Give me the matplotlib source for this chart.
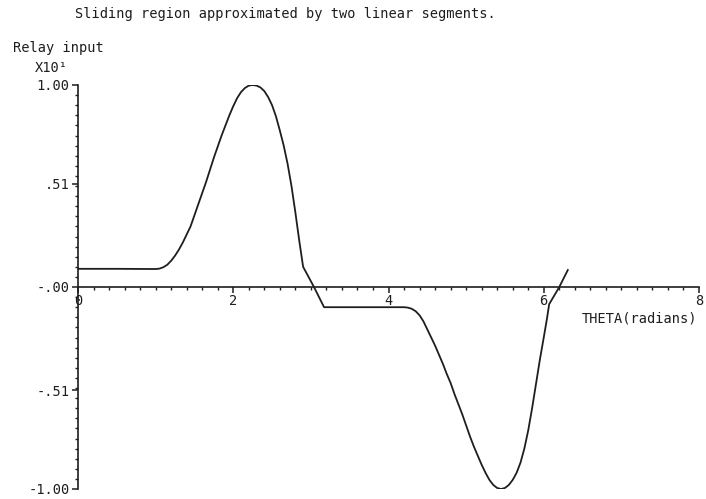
"""
Relay input vs THETA, sliding region approximated by two linear segments
"""
import numpy as np
import matplotlib
matplotlib.use("Agg")
import matplotlib.pyplot as plt
from matplotlib.ticker import MultipleLocator, FixedLocator

theta = [0.0, 0.5, 1.0, 1.05, 1.10, 1.15, 1.20, 1.25, 1.30, 1.35, 1.40, 1.45,
         1.50, 1.55, 1.60, 1.65, 1.70, 1.75, 1.80, 1.85, 1.90, 1.95, 2.00, 2.05,
         2.10, 2.15, 2.20, 2.25, 2.30, 2.35, 2.40, 2.45, 2.50, 2.55, 2.60, 2.65,
         2.70, 2.75, 2.80, 2.85, 2.90, 3.04, 3.17, 3.6, 4.20, 4.25, 4.30, 4.35,
         4.40, 4.45, 4.50, 4.55, 4.60, 4.65, 4.70, 4.75, 4.80, 4.85, 4.90, 4.95,
         5.00, 5.05, 5.10, 5.15, 5.20, 5.25, 5.30, 5.35, 5.40, 5.45, 5.50, 5.55,
         5.60, 5.65, 5.70, 5.75, 5.80, 5.85, 5.90, 5.95, 6.00, 6.04, 6.07, 6.20,
         6.31]
relay = [0.09, 0.09, 0.089, 0.091, 0.098, 0.11, 0.13, 0.155, 0.185, 0.22, 0.26, 0.30,
         0.355, 0.41, 0.465, 0.52, 0.58, 0.64, 0.695, 0.75, 0.80, 0.85, 0.895, 0.935,
         0.965, 0.985, 0.997, 1.0, 0.997, 0.988, 0.97, 0.94, 0.90, 0.845, 0.775, 0.70,
         0.61, 0.50, 0.37, 0.23, 0.10, 0.0, -0.10, -0.10, -0.10, -0.102, -0.108, -0.12,
         -0.14, -0.17, -0.21, -0.25, -0.29, -0.335, -0.38, -0.43, -0.475, -0.53, -0.58, -0.63,
         -0.685, -0.74, -0.79, -0.835, -0.88, -0.92, -0.955, -0.98, -0.995, -1.0, -0.995, -0.98,
         -0.955, -0.92, -0.87, -0.80, -0.71, -0.60, -0.48, -0.36, -0.25, -0.16, -0.085, 0.0,
         0.084]

ytick_vals = [-1.0, -0.51, 0.0, 0.51, 1.0]
ytick_labels = ["-1.00", "-.51", "-.00", ".51", "1.00"]
xtick_vals = [0, 2, 4, 6, 8]

W, H = 706, 499
FONT = "DejaVu Sans Mono"
FS = 9.8
INK = "#1e1e1e"

plt.rcParams["font.family"] = FONT

fig = plt.figure(figsize=(W / 100, H / 100), dpi=100)
ax = fig.add_axes([78 / W, (H - 489) / H, (699 - 78) / W, (489 - 85) / H])

ax.plot(theta, relay, color=INK, lw=1.3)

ax.set_xlim(0, 8)
ax.set_ylim(-1.0, 1.0)

for s in ("top", "right"):
    ax.spines[s].set_visible(False)
ax.spines["bottom"].set_position(("data", 0))
ax.spines["left"].set_position(("data", 0))
for s in ("bottom", "left"):
    ax.spines[s].set_color(INK)
    ax.spines[s].set_linewidth(1.2)

ax.xaxis.set_major_locator(FixedLocator(xtick_vals))
ax.xaxis.set_minor_locator(MultipleLocator(0.2))
ax.set_xticklabels([str(v) for v in xtick_vals])
ax.yaxis.set_major_locator(FixedLocator(ytick_vals))
ax.yaxis.set_minor_locator(MultipleLocator(0.05))
ax.set_yticklabels(ytick_labels)

ax.tick_params(axis="both", which="both", direction="out", color=INK,
               labelsize=FS, labelcolor=INK)
ax.tick_params(axis="x", which="major", length=4, width=1.1, pad=1)
ax.tick_params(axis="x", which="minor", length=2.5, width=1.0)
ax.tick_params(axis="y", which="major", length=4, width=1.1, pad=2)
ax.tick_params(axis="y", which="minor", length=2.5, width=1.0)

fig.text(75 / W, 1 - 14 / H, "Sliding region approximated by two linear segments.",
         fontsize=FS, color=INK, va="center", ha="left")
fig.text(13 / W, 1 - 48 / H, "Relay input", fontsize=FS, color=INK,
         va="center", ha="left")
fig.text(35 / W, 1 - 68 / H, "X10\u00b9", fontsize=FS, color=INK,
         va="center", ha="left")
fig.text(582 / W, 1 - 318 / H, "THETA(radians)", fontsize=FS, color=INK,
         va="center", ha="left")

fig.savefig("out.png", dpi=100)
